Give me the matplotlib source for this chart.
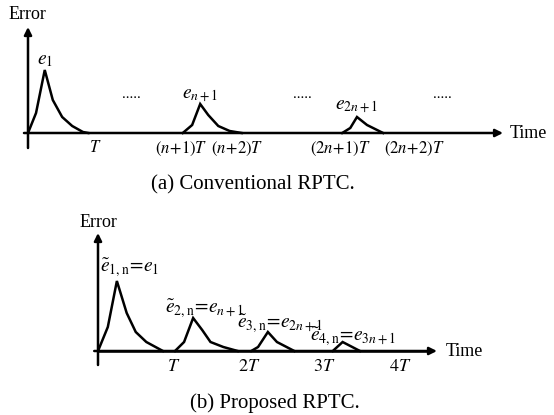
import matplotlib
matplotlib.use('Agg')
import matplotlib.pyplot as plt

plt.rcParams['font.family'] = ['Liberation Serif', 'DejaVu Serif']
plt.rcParams['mathtext.fontset'] = 'stix'

# ---- panel (a): conventional RPTC, time in T-ish units, error in px-ish units
a_pulses_t = [
    [0.0, 0.12, 0.25, 0.37, 0.51, 0.66, 0.82, 0.90],
    [2.31, 2.45, 2.57, 2.69, 2.84, 3.01, 3.19],
    [4.69, 4.81, 4.91, 5.06, 5.21, 5.30],
]
a_pulses_e = [
    [0, 20, 63, 33, 16, 7, 1, 0],
    [0, 8, 29, 18, 7, 2, 0],
    [0, 5, 16, 8, 3, 0],
]
a_peak_labels = [r'$e_1$', r'$e_{n+1}$', r'$e_{2n+1}$']
a_ticks = [1.0, 2.29, 3.12, 4.66, 5.76]
a_ticklabels = [r'$T$', r'$(n\!+\!1)T$', r'$(n\!+\!2)T$', r'$(2n\!+\!1)T$', r'$(2n\!+\!2)T$']
a_dots = [1.55, 4.10, 6.18]

# ---- panel (b): proposed RPTC
b_pulses_t = [
    [0.0, 0.13, 0.25, 0.38, 0.50, 0.64, 0.86],
    [1.02, 1.14, 1.26, 1.38, 1.49, 1.66, 1.85],
    [2.03, 2.12, 2.25, 2.37, 2.60],
    [3.11, 3.24, 3.47],
]
b_pulses_e = [
    [0, 24, 70, 38, 19, 9, 0],
    [0, 9, 33, 21, 9, 4, 0],
    [0, 4, 19, 9, 0],
    [0, 9, 0],
]
b_peak_labels = [r'$\tilde{e}_{1,\mathrm{n}}\!=\!e_1$', r'$\tilde{e}_{2,\mathrm{n}}\!=\!e_{n+1}$',
                 r'$\tilde{e}_{3,\mathrm{n}}\!=\!e_{2n+1}$', r'$\tilde{e}_{4,\mathrm{n}}\!=\!e_{3n+1}$']
b_ticks = [1, 2, 3, 4]
b_ticklabels = [r'$T$', r'$2T$', r'$3T$', r'$4T$']

W, H = 554, 415
fig = plt.figure(figsize=(W / 100, H / 100), dpi=100)

LW = 1.8
arrow = dict(arrowstyle='-|>', lw=LW, color='k', mutation_scale=11,
             shrinkA=0, shrinkB=0)


def axes_frame(ax, x0, x1, y0, y1):
    ax.annotate('', xy=(x1, 0), xytext=(x0, 0), arrowprops=arrow)
    ax.annotate('', xy=(0, y1), xytext=(0, y0), arrowprops=arrow)


# panel (a) axes: 67 px per unit, origin at px (28, 133)
ax_a = fig.add_axes([0, 1 - 200 / H, 1, 200 / H])
ax_a.set_xlim(-28 / 67, (W - 28) / 67)
ax_a.set_ylim(-67, 133)
ax_a.axis('off')
axes_frame(ax_a, -0.06, 7.09, -15, 106)
for t, e in zip(a_pulses_t, a_pulses_e):
    ax_a.plot(t, e, color='k', lw=LW, solid_joinstyle='miter')
lab_off = [(0.0, 1), (0.0, -1), (0.0, 1)]
for t, e, lab, (dx, dy) in zip(a_pulses_t, a_pulses_e, a_peak_labels, lab_off):
    i = e.index(max(e))
    ax_a.text(t[i] + dx, e[i] + dy, lab, ha='center', va='bottom', fontsize=14)
for d in a_dots:
    ax_a.text(d, 32, '.....', ha='center', va='bottom', fontsize=11)
for x, lab in zip(a_ticks, a_ticklabels):
    ax_a.text(x, -7, lab, ha='center', va='top', fontsize=12)
ax_a.text(-0.015, 110, 'Error', ha='center', va='bottom', fontsize=13)
ax_a.text(7.19, 0, 'Time', ha='left', va='center', fontsize=13)

# panel (b) axes: 75.5 px per T, origin at px (98, 351)
ax_b = fig.add_axes([0, 0, 1, 215 / H])
ax_b.set_xlim(-98 / 75.5, (W - 98) / 75.5)
ax_b.set_ylim(-64, 151)
ax_b.axis('off')
axes_frame(ax_b, -0.05, 4.49, -14, 118)
for t, e in zip(b_pulses_t, b_pulses_e):
    ax_b.plot(t, e, color='k', lw=LW, solid_joinstyle='miter')
ax_b.plot([0, 4.4], [0, 0], color='k', lw=LW)
lab_pos = [(0.03, 72), (0.89, 31), (1.84, 16), (2.81, 3)]
for lab, (x, y) in zip(b_peak_labels, lab_pos):
    ax_b.text(x, y, lab, ha='left', va='bottom', fontsize=14)
for x, lab in zip(b_ticks, b_ticklabels):
    ax_b.text(x, -7, lab, ha='center', va='top', fontsize=13)
ax_b.text(0.0, 120, 'Error', ha='center', va='bottom', fontsize=13)
ax_b.text(4.6, 0, 'Time', ha='left', va='center', fontsize=13)

# captions
fig.text(253 / W, 1 - 185 / H, '(a) Conventional RPTC.', ha='center', va='center', fontsize=15)
fig.text(275 / W, 1 - 403 / H, '(b) Proposed RPTC.', ha='center', va='center', fontsize=15)

fig.savefig('out.png', dpi=100)
